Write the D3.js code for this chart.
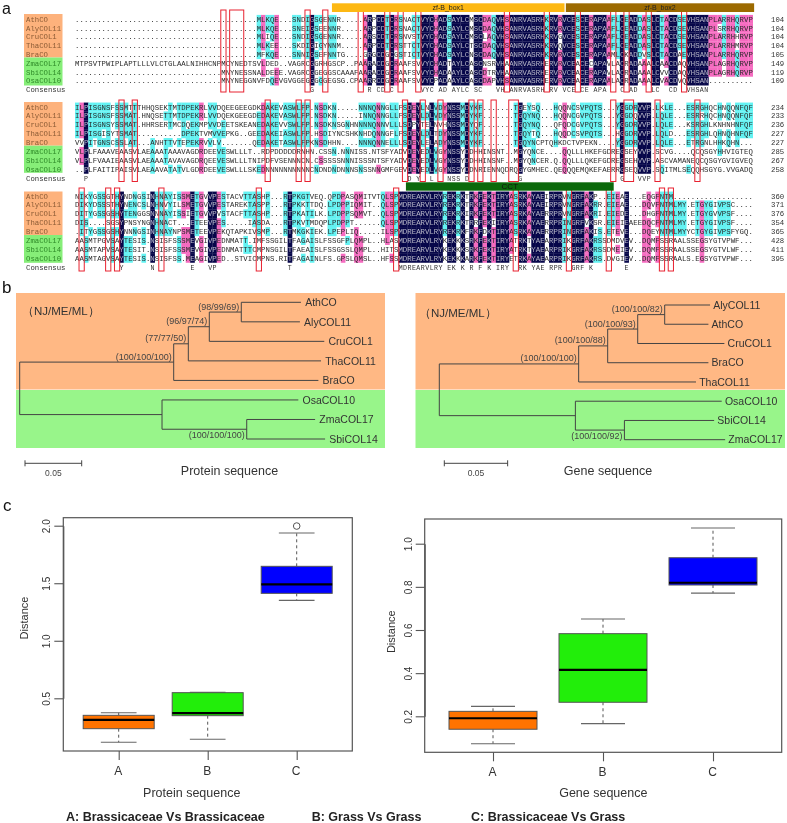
<!DOCTYPE html>
<html><head><meta charset="utf-8">
<script src="https://cdnjs.cloudflare.com/ajax/libs/d3/7.8.5/d3.min.js"></script>
<style>
html,body{margin:0;padding:0;background:#fff}
svg{display:block;filter:blur(0.35px)}
text{font-family:"Liberation Sans",Arial,sans-serif}
.mono{font-family:"Liberation Mono",monospace}
</style></head><body><svg id="c" width="787" height="823"></svg>
<script>
// ---------- a: alignment ----------
const seqNames=["AthCO","AlyCOL11","CruCOL1","ThaCOL11","BraCO","ZmaCOL17","SbiCOL14","OsaCOL10"];
const block1=[
"MLKQE ... SNDIGSGENNR ..... ARPCDTCRSN ACTVYCHADS AYLCMSCDAQ VHSANRVASR HKRVRVCESC ERAPAAFLCE ADDASLCTAC DSEVHSANPL ARRHQRVP",
"MLKQE ... SNEIGSEENNR ..... ARPCDTCRSN ACTVYCHADS AYLCMSCDAQ VHSANRVASR HKRVRVCESC ERAPAAFLCE ADDASLCTAC DSEVHSANPL SRRHQRVP",
"MLIQE ... SNDIGSGENNR ..... ARSCDTCRSN VSTVYCHADS AYLCMSCLAQ VHSANRVASR HKRVGVCESC ERAPAAFLCE ADDASLCTAC DSEVHSANPL ARRHHRVP",
"MLKEE ... SKDIGIGYNNM ..... ARPCDTCRST TCTVYCHADS AYLCTSCDAQ VHSANRVASR HKRVQVCESC ERAPAAFLCE ADDASLCTAC DSEVHSANPL ARRHMRVP",
"MFKQE ... SNNIGSEFNNTG .... GRGCDGCGST ICTVYCHADS AYLCNSCDAQ VHSANRVASR HKRVRVCESC ERAPAAMLCK ADDVSLCTAC DAEVHSANPL ARRHQRVP",
"MTPSVTPWIPLAPTLLLVLCTGLAALNIHHCNPMCYNEDTSVLDED .. VAGRCGGRHGSCP .. PA ARACDGCRAA FSVVYCHADT AYLCASCNSR VHAANRVASR HERVRVCEAC ECAPAVLACR ADAAALCAAC DAQVHSANPL AGRHQRVP",
"MNYNESSNALDEEE . VAGRCGGEGGSCAAAFA ARACDGCRAA FSVVYCHADA AYLCASCDTR VHAANRVASR HERVRVCEAC ERAPAVLACR ADAAALCVVC DAQVHSANPL AGRHQRVP",
"MNYNEGGNVFDQEVGVGGEGGGGGEGSG.CPA ARRCDGCRAA FSVVYCPADA AYLCASCDAP VHSANRVASR HERVRVCEAC ERAPAALACR ADAAALCVAC DVQVHSAN.. ........"
];
const block2=[
"ILPISGNSFSSMTTTHHQSEKTMTDPEKRLVVDQEEGEEGDKDAKEVASWLFP . NSDKN .....NNNQNNG LLFSDEYLNLVDYNSSMDYKF ....... TGEYSQ ... HQQNCSVPQTS ... YGGDRVVP . LKLE ... ESRGHQCHNQQNFQF",
"ILPISGNSFSSMAT.HNQSETTMTDPEKRLVVDQEKGEEGDEDAKEVASWLFP . NSDKN .....INNQNNG LLFSDEYLDLVDYNSSMDYKF ....... TGQYNQ ... HQQNCGVPQTS ... YGGDQVVP . LQLE ... ESRRHQCHNQQNFQF",
"ILPISGNSYSSMAT.HHRSERTMCDQEKMPVVDEETSKEANEDAKEVVSWLFP . NSDKN SGNHNNNNQNNV LLLSDPYTELNVHNSSMDYQF ....... TGQYNQ ... QFQDCGVPQTS ... YGGDRVVP . LQLE ... KSRGHLKNHNHNFQF",
"ILPISGISYTSMAT..........DPEKTVMVVEPKG..GEEDAKEIASWLFP . HSDIY NCSHKNHDQNNG FLFSDEYLDLTDYNSSMDYKF ....... TGQYTQ ... HQQDCSVPQTS ... HGGDRVVP . LQLD ... ESRGHLQHNQHNFQF",
"VVPITGNSCSSLAT...ANHTTVTEPEKRVVLV.......QEDAKETASWLFP K NSDHH N....NNNQNNE LLLSDEYLELADYNSSMDYKF ....... TGQYNC PTQ HKDCTVPEKN. ... YGGDRVVP . LQLE ... ETRGNLHHKQHN...",
"VLPLFAAAVEAASVLAEAAATAAAVAGDRDEEVESWLLLT..RDPDDDDDRNH N .CSSN .NNNISS.NTSF YADVDEYEDLVGYNSSYDDHH INSNT.. MGYQNC E.. ..QQLLLHKEF GDR EGSEYVVP . SCVG ... .QCQSGYHHVIGTEQ",
"VLPLFVAAIEAASVLAEAAATAVAVAGDRQEEVESWLLLTNIPDFVSENNNCN . CSSSS SNNNISSSNTSF YADVDEYEDLVGYNSSYDDHH INSNF.. MGYQNC ER. Q.QQLLLQKEF GDR EGSEHVVP . ASCV AMA NEQCQSGYGVIGVEQ",
"..PLFAITIPAISVLAEAAVATATVLGDRDEEVESWLLLSKEDNNNNNNNNNN C NDNDN DNNNSNSSNNGM FGEVDEYEDLVGYNSSYDDNR IENNQDR QGYGMH EC. QEQQQEMQKEF AER RGSEQVVP . SQIT MLS EQQHSGYG.VVGADQ"
];
const block3=[
"NIKYGSSGTH YNDNGSINHN AYISSMETGV VPESTACVTT ASHP ... RTPKGTVEQ . QPDPASQMITVTQLSPM DREARVLRYREKRKTRKFEKTIRYASRKAYAEIRPRVNGR FAKP..EIEAE... EQGFNTM..................",
"DIKYDSSSTH YNENCSLNHN VYILSMETGV VPESTAREKT ASPP ... RTPKKTTDQ . LPDPPIQMIT..QLSPM DREARVLRYREKRKTRKFEKTIRYASRKAYAEIRPRVNGR FAKRR.EIEAE... DQVFNTMLMY.ETGYGIVPSC....",
"DITYGSSGSH YTENGGSNNN AYISSIETGV VPVSTACFTT ASHP ... RTPKATILK . LPDPPSQMVT..QLSPM DREARVLRYREKRKIRKFEKTIRYASRKAYAERRPRVNGR FAKRI.EIEDE... DHGFNTMLMY.ETGYGVVPSF....",
"DIS....SGS YPNSYNGNHN ACT...ETEE VPES.....I ASDA ... RTPKVTMDQ P LPDPPT......QLSPM DREARVLRYREKRKTRRFEKIIRYASRKAYAERRPRINGR FVKSR.EIEIEAEE DQCFNTMLMY.ETGYGIVPSF....",
".ITYGSSGSH YNNNGSINHN AYNPSMETEE VPEKQTAPKI VSMP ... RTMKGKIEK . LPEPLIQ.....ILSPM DREARVLRYREKRKFRKFDKTIRYASRKAYAERRPRINGR FAKIS.ETEVE... DQEYNTMLMYYCTGYGIVPSFYGQ.",
"AASMTPGVSA YTESIS.NSI SFSSSMEVGI VPEDNMATT. IMFS SGI LTFAGAISL F SSGFPLQMPL..HLASM DREARVLRYKEKKKSRKFEKTIRYATRKTYAEARPRIKGR FAKRSSDMDVEV.. DQMFSSRAALSSEGSYGTVPWF...",
"AASMTAPVSA YTESIT.NSI SFSSSMEVGI VPEDNMATTT CMPN SGI LTFAEAISL F SSGSSLQMPL..HITSM DREARVLRYKEKKKSRKFEKTIRYATRKTYAEARPRIKGR FAKRSSDMEIEV.. DQMFSSRAALSSEGSYGTVLWF...",
"AASMTAGVSA YTESIS.NSI SFSS.MEAGI VPED..STVI CMPN S.R ITFAGAINL F S.GPSLQMSL..HFSSM DREARVLRYKEKKKARKFEKTIRYETRKAYAEARPRIKGR FAKRS.DVGIEV.. DQMFSSRAALS.EGSYGTVPWF..."
];
const endNums1=[104,104,104,104,105,149,119,109];
const endNums2=[234,233,236,227,227,285,267,258];
const endNums3=[360,371,376,354,365,428,411,395];
const redCols1=[[33,33],[35,37],[52,52],[56,56],[64,64],[70,70],[73,73],[77,77],[97,97],[106,106],[113,113],[121,121],[124,124],[129,129],[137,137]];
const redCols2=[[10,10],[13,13],[43,43],[50,50],[52,52],[74,74],[78,78],[82,82],[89,89],[91,91],[94,94],[98,99],[121,121],[124,125],[131,131],[140,140]];
const redCols3=[[1,1],[7,7],[9,9],[19,19],[41,41],[72,72],[99,99],[111,111],[120,120],[132,132],[134,134]];
const domains=[
 {name:"zf-B_box1",c0:58,c1:110.5,block:0,color:"#FDB813"},
 {name:"zf-B_box2",c0:110.8,c1:153.3,block:0,color:"#9C6A00"},
 {name:"CCT",c0:74.7,c1:121.6,block:2,color:"#0B690B"}
];

// ---------- b: trees ----------
const proteinIds=["root","n4","n3","n2","n1","AthCO","AlyCOL11","CruCOL1","ThaCOL11","BraCO","g","OsaCOL10","m","ZmaCOL17","SbiCOL14"];
const proteinParents=["","root","n4","n3","n2","n1","n1","n2","n3","n4","root","g","g","m","m"];
const proteinLengths=[0,.1358,.0129,.0185,.0282,.0526,.0517,.1014,.117,.1276,.1255,.1202,.0747,.0603,.0691];
const proteinSupport={n4:"(100/100/100)",n3:"(77/77/50)",n2:"(96/97/74)",n1:"(98/99/69)",m:"(100/100/100)"};
const geneIds=["root","a","b","c","d","AlyCOL11","AthCO","CruCOL1","BraCO","ThaCOL11","g","OsaCOL10","m","SbiCOL14","ZmaCOL17"];
const geneParents=["","root","a","b","c","d","d","c","b","a","root","g","g","m","m"];
const geneLengths=[0,.110,.0229,.0237,.0213,.0358,.0345,.0684,.0795,.0926,.1074,.1155,.0387,.0708,.0795];
const geneSupport={a:"(100/100/100)",b:"(100/100/88)",c:"(100/100/93)",d:"(100/100/82)",m:"(100/100/92)"};

// ---------- c: boxplots (low, q1, median, q3, high) ----------
const groups=["A","B","C"];
const boxColors=["#FF7300","#22EE0A","#0000FF"];
const proteinBoxes=[[.118,.236,.312,.352,.375],[.144,.349,.372,.549,.552],[1.351,1.412,1.49,1.647,1.936]];
const proteinOutliers=[[],[],[1.997]];
const geneBoxes=[[.073,.14,.191,.223,.246],[.166,.265,.415,.583,.651],[.771,.8085,.819,.935,1.073]];
const geneOutliers=[[],[],[]];
const legendTexts=["A: Brassicaceae Vs Brassicaceae","B: Grass Vs Grass","C: Brassicaceae Vs Grass"];

const svg=d3.select("#c");
// ---- panel labels
[["a",2,14.4,16],["b",2,293,17],["c",3,511,17]].forEach(([t,x,y,fs])=>svg.append("text").attr("x",x).attr("y",y).attr("font-size",fs).attr("fill","#111").text(t));

// ---- alignment drawing
const NCOL=153;
const xCol=d3.scaleLinear().domain([0,NCOL]).range([75,752.8]);
const W=xCol(1)-xCol(0);
const clean=s=>s.replace(/ /g,"");
const rows1=block1.map(s=>clean(s).padStart(NCOL,".").slice(-NCOL));
const rows2=block2.map(s=>clean(s).padEnd(NCOL,".").slice(0,NCOL));
const rows3=block3.map(s=>clean(s).padEnd(NCOL,".").slice(0,NCOL));
const blocks=[
 {rows:rows1,nums:endNums1,red:redCols1,y0:19.3,dy:8.8,redTop:10,redBot:92,bg:[14,57.5,85.5]},
 {rows:rows2,nums:endNums2,red:redCols2,y0:107,dy:8.875,redTop:100,redBot:181.5,bg:[102,145.7,172.8]},
 {rows:rows3,nums:endNums3,red:redCols3,y0:196,dy:8.875,redTop:188,redBot:271,bg:[191.5,235,262.8]}
];
const NAVY="#07074A",PINK="#F56BC0",CYAN="#62F2F2";
blocks.forEach((b,bi)=>{
  const g=svg.append("g");
  const yRow=d3.scaleLinear().domain([0,8]).range([b.y0,b.y0+8*b.dy]);
  g.append("rect").attr("x",24).attr("y",b.bg[0]).attr("width",38.5).attr("height",b.bg[1]-b.bg[0]).attr("fill","#FDB27C");
  g.append("rect").attr("x",24).attr("y",b.bg[1]).attr("width",38.5).attr("height",b.bg[2]-b.bg[1]).attr("fill","#86EE78");
  const cells=[];
  const consensus=[];
  for(let c=0;c<NCOL;c++){
    const counts=d3.rollup(b.rows.map(r=>r[c]).filter(ch=>ch!=="."),v=>v.length,d=>d);
    let best=null,n=0; counts.forEach((v,k)=>{if(v>n){n=v;best=k;}});
    consensus.push(n===8?best:" ");
    b.rows.forEach((r,ri)=>{
      const ch=r[c]; let bg=null;
      if(ch!=="."&&ch===best){ bg=n===8?NAVY:n>=6?PINK:n>=4?CYAN:null; }
      cells.push({c,ri,ch,bg});
    });
  }
  g.selectAll("rect.cell").data(cells.filter(d=>d.bg)).join("rect").attr("class","cell")
   .attr("x",d=>xCol(d.c)).attr("y",d=>yRow(d.ri)-b.dy/2).attr("width",W+.2).attr("height",b.dy+.2).attr("fill",d=>d.bg);
  g.selectAll("text.res").data(cells).join("text").attr("class","res mono")
   .attr("x",d=>xCol(d.c)+W/2).attr("y",d=>yRow(d.ri)+2.5).attr("text-anchor","middle")
   .attr("font-size",7.3).attr("fill",d=>d.bg===NAVY?"#B8B8C8":"#2a2a2a").text(d=>d.ch);
  g.selectAll("text.name").data(seqNames).join("text").attr("class","name mono")
   .attr("x",26).attr("y",(d,i)=>yRow(i)+2.5).attr("font-size",7.3).attr("fill",(d,i)=>i<5?"#8A5A34":"#2E8A28").text(d=>d);
  g.append("text").attr("class","mono").attr("x",26).attr("y",yRow(8)+2.5).attr("font-size",7.3).attr("fill","#333").text("Consensus");
  g.selectAll("text.num").data(b.nums).join("text").attr("class","num mono")
   .attr("x",771).attr("y",(d,i)=>yRow(i)+2.5).attr("font-size",7.3).attr("fill","#333").text(d=>d);
  g.selectAll("text.cons").data(consensus).join("text").attr("class","cons mono")
   .attr("x",(d,i)=>xCol(i)+W/2).attr("y",yRow(8)+2.5).attr("text-anchor","middle").attr("font-size",6.6).attr("fill","#333").text(d=>d);
  g.selectAll("rect.red").data(b.red).join("rect").attr("class","red")
   .attr("x",d=>xCol(d[0])-.4).attr("y",b.redTop).attr("width",d=>(d[1]-d[0]+1)*W+.8).attr("height",b.redBot-b.redTop)
   .attr("fill","none").attr("stroke","#E82230").attr("stroke-width",1);
});
domains.forEach(d=>{
  const top=d.block===0?3.3:182.3, h=d.block===0?8.7:8.4;
  svg.append("rect").attr("x",xCol(d.c0)).attr("y",top).attr("width",xCol(d.c1)-xCol(d.c0)).attr("height",h).attr("fill",d.color);
  svg.append("text").attr("x",(xCol(d.c0)+xCol(d.c1))/2).attr("y",top+6.6).attr("text-anchor","middle").attr("font-size",d.block===0?7:8).attr("fill",d.block===0?"#222":"#111").text(d.name);
});

// ---- trees
function drawTree(o){
  const g=svg.append("g");
  g.append("rect").attr("x",o.x0).attr("y",293).attr("width",o.x1-o.x0).attr("height",96.5).attr("fill","#FFB884");
  g.append("rect").attr("x",o.x0).attr("y",390).attr("width",o.x1-o.x0).attr("height",58).attr("fill","#98F58A");
  const table=o.ids.map((id,i)=>({id,parent:o.parents[i]||null,len:o.lengths[i]}));
  const root=d3.stratify().id(d=>d.id).parentId(d=>d.parent)(table);
  const x=d3.scaleLinear().domain([0,1]).range([o.rootX,o.rootX+o.pxPerUnit]);
  const yLeaf=d3.scalePoint().domain(root.leaves().map(d=>d.id)).range(o.yRange);
  root.eachBefore(n=>{n.dist=(n.parent?n.parent.dist:0)+n.data.len;});
  root.eachAfter(n=>{n.py=n.children?d3.mean(n.children,c=>c.py):yLeaf(n.id);});
  const segs=[];
  root.descendants().forEach(n=>{
    if(n.parent)segs.push([x(n.parent.dist),n.py,x(n.dist),n.py]);
    if(n.children){const ys=n.children.map(c=>c.py);segs.push([x(n.dist),d3.min(ys),x(n.dist),d3.max(ys)]);}
  });
  g.selectAll("line").data(segs).join("line").attr("x1",d=>d[0]).attr("y1",d=>d[1]).attr("x2",d=>d[2]).attr("y2",d=>d[3])
    .attr("stroke","#444").attr("stroke-width",1);
  g.selectAll("text.tip").data(root.leaves()).join("text").attr("class","tip")
    .attr("x",d=>x(d.dist)+o.tipGap).attr("y",d=>d.py).attr("dy","0.35em").attr("font-size",10.5).attr("fill","#333").text(d=>d.id);
  const sup=root.descendants().filter(n=>o.support[n.id]);
  g.selectAll("text.sup").data(sup).join("text").attr("class","sup")
    .attr("x",d=>x(d.dist)-2).attr("y",d=>d.py+(d.id==="m"?6:-5.7)).attr("dy","0.35em").attr("text-anchor","end")
    .attr("font-size",9).attr("fill","#444").text(d=>o.support[d.id]);
  g.append("text").attr("x",o.methodX).attr("y",o.methodY).attr("font-size",11.5).attr("fill","#333").attr("dy","0.35em").text("（NJ/ME/ML）");
  const u=.05;
  const bx0=o.barX, bx1=o.barX+x(u)-x(0);
  g.append("line").attr("x1",bx0).attr("x2",bx1).attr("y1",463.3).attr("y2",463.3).attr("stroke","#444");
  [bx0,bx1].forEach(v=>g.append("line").attr("x1",v).attr("x2",v).attr("y1",460.3).attr("y2",466.3).attr("stroke","#444"));
  g.append("text").attr("x",(bx0+bx1)/2).attr("y",472.7).attr("dy","0.35em").attr("text-anchor","middle").attr("font-size",8.5).attr("fill","#444").text(u);
  g.append("text").attr("x",o.titleX).attr("y",470.8).attr("dy","0.35em").attr("text-anchor","middle").attr("font-size",12.5).attr("fill","#333").text(o.title);
}
drawTree({x0:16,x1:385,ids:proteinIds,parents:proteinParents,lengths:proteinLengths,support:proteinSupport,rootX:19.7,pxPerUnit:1134,yRange:[302.3,439],tipGap:4.2,methodX:22,methodY:311,barX:25,titleX:229.5,title:"Protein sequence"});
drawTree({x0:415.5,x1:785,ids:geneIds,parents:geneParents,lengths:geneLengths,support:geneSupport,rootX:439.3,pxPerUnit:1267,yRange:[305,439.7],tipGap:3.2,methodX:419,methodY:313,barX:444.3,titleX:608,title:"Gene sequence"});

// ---- box plots
function drawBox(o){
  const g=svg.append("g");
  const y=d3.scaleLinear().domain(o.yDomain).range(o.yRange);
  const x=d3.scalePoint().domain(groups).range(o.xRange);
  g.append("rect").attr("x",o.fx0).attr("y",o.fy0).attr("width",o.fx1-o.fx0).attr("height",o.fy1-o.fy0).attr("fill","#fff").attr("stroke","#555").attr("stroke-width",1.2);
  const ax=g.append("g").attr("transform",`translate(${o.fx0},0)`).call(d3.axisLeft(y).tickValues(o.ticks).tickFormat(d3.format(".1f")).tickSize(9).tickSizeOuter(0));
  ax.selectAll("path,line").attr("stroke","#555").attr("stroke-width",1.1);
  ax.selectAll("text").attr("transform","rotate(-90)").attr("x",0).attr("y",-13).attr("dy",0).attr("text-anchor","middle").attr("font-size",10).attr("fill","#333").style("font-family",'"Liberation Sans"');
  const bx=g.append("g").attr("transform",`translate(0,${o.fy1})`).call(d3.axisBottom(x).tickSize(9).tickSizeOuter(0));
  bx.select("path").attr("stroke","none");
  bx.selectAll("line").attr("stroke","#555").attr("stroke-width",1.1);
  bx.selectAll("text").attr("y",19.5).attr("dy","0.35em").attr("dx",-1).attr("font-size",12).attr("fill","#333").style("font-family",'"Liberation Sans"');
  groups.forEach((k,i)=>{
    const [lo,q1,md,q3,hi]=o.boxes[i],cx=x(k);
    g.append("line").attr("x1",cx).attr("x2",cx).attr("y1",y(q3)).attr("y2",y(hi)).attr("stroke","#555").attr("stroke-dasharray","3,3");
    g.append("line").attr("x1",cx).attr("x2",cx).attr("y1",y(q1)).attr("y2",y(lo)).attr("stroke","#555").attr("stroke-dasharray","3,3");
    [lo,hi].forEach(v=>g.append("line").attr("x1",cx-o.cap/2).attr("x2",cx+o.cap/2).attr("y1",y(v)).attr("y2",y(v)).attr("stroke","#666").attr("stroke-width",1.1));
    g.append("rect").attr("x",cx-o.bw/2).attr("y",y(q3)).attr("width",o.bw).attr("height",y(q1)-y(q3)).attr("fill",boxColors[i]).attr("stroke","#555").attr("stroke-width",1);
    g.append("line").attr("x1",cx-o.bw/2).attr("x2",cx+o.bw/2).attr("y1",y(md)).attr("y2",y(md)).attr("stroke","#000").attr("stroke-width",2.2);
    g.selectAll(null).data(o.outliers[i]).join("circle").attr("cx",cx).attr("cy",d=>y(d)).attr("r",3.3).attr("fill","none").attr("stroke","#555").attr("stroke-width",1);
  });
  g.append("text").attr("x",o.titleX).attr("y",793).attr("dy","0.35em").attr("text-anchor","middle").attr("font-size",12.5).attr("fill","#333").text(o.title);
  g.append("text").attr("transform",`translate(${o.distX},${o.distY}) rotate(-90)`).attr("text-anchor","middle").attr("dy","0.35em").attr("font-size",11).attr("fill","#333").text("Distance");
}
drawBox({yDomain:[2,.5],yRange:[525.7,698.3],ticks:[.5,1,1.5,2],xRange:[118.7,296.7],fx0:63.3,fx1:352.3,fy0:517.7,fy1:751,bw:71,cap:35.7,boxes:proteinBoxes,outliers:proteinOutliers,title:"Protein sequence",titleX:191.7,distX:24,distY:618});
drawBox({yDomain:[1,.2],yRange:[543.7,716.3],ticks:[.2,.4,.6,.8,1],xRange:[493,713],fx0:424.7,fx1:781.7,fy0:519,fy1:752.3,bw:88,cap:44,boxes:geneBoxes,outliers:geneOutliers,title:"Gene sequence",titleX:603.3,distX:390.7,distY:631.7});
[[66,0],[311.7,1],[471,2]].forEach(([x,i])=>svg.append("text").attr("x",x).attr("y",816.7).attr("dy","0.35em").attr("font-size",12.5).attr("font-weight","bold").attr("fill","#222").text(legendTexts[i]));
</script></body></html>
